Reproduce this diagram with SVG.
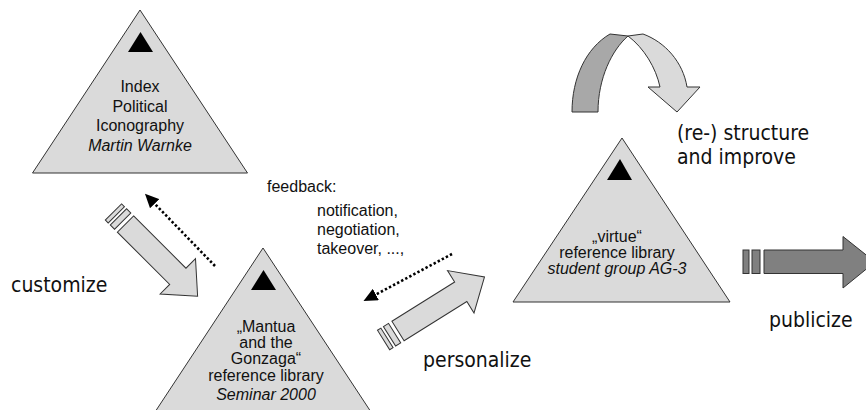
<svg xmlns="http://www.w3.org/2000/svg" width="866" height="410" viewBox="0 0 866 410">
<style>
.tri{fill:#dadada;stroke:#333;stroke-width:1}
.apex{fill:#000}
.nt{font-family:"Liberation Sans",Arial,sans-serif;font-size:16px;fill:#111;text-anchor:middle}
.it{font-style:italic}
.lbl{font-family:"DejaVu Sans Condensed","DejaVu Sans",sans-serif;font-size:21px;fill:#111}
.fb{font-family:"Liberation Sans",Arial,sans-serif;font-size:16px;fill:#111}
.blk{fill:#dadada;stroke:#333;stroke-width:1}
.dark{fill:#808080;stroke:#333;stroke-width:1}
.dot{fill:none;stroke:#000;stroke-width:2.6;stroke-dasharray:2.4 2.2}
</style>
<defs>
<marker id="head" markerUnits="userSpaceOnUse" viewBox="0 0 14 13" refX="1" refY="6.5" markerWidth="14" markerHeight="13" orient="auto">
<path d="M0,0 L14,6.5 L0,13 Z" fill="#000"/>
</marker>
<g id="striped">
<path class="blk" d="M0,-11.5 L74,-11.5 L74,-25 L102,0 L74,25 L74,11.5 L0,11.5 Z"/>
<rect class="blk" x="-10" y="-11.5" width="6" height="23"/>
<rect class="blk" x="-17" y="-11.5" width="4" height="23"/>
</g>
</defs>

<g id="connectors">
<use href="#striped" transform="translate(125.5,224) rotate(45)"/>
<use href="#striped" transform="translate(398,331) rotate(-32)"/>
<g id="publicize-arrow">
<path class="dark" d="M764,250 L843,250 L843,236.5 L875,262 L843,288 L843,273.5 L764,273.5 Z"/>
<rect class="dark" x="752" y="250" width="8" height="23.5"/>
<rect class="dark" x="743" y="250" width="6" height="23.5"/>
</g>
<g id="curved-arrow">
<path d="M572,112 C572,78 586,48 610,34 L628,36 C612,50 598,78 598,112 Z" fill="#a8a8a8" stroke="#333" stroke-width="1"/>
<path d="M628,36 L643,34 C665,42 683,62 687,87 L700,87 L677,112 L648,87 L660,87 C656,68 644,48 628,36 Z" fill="#dadada" stroke="#333" stroke-width="1"/>
</g>
<line class="dot" x1="215" y1="266" x2="154" y2="203" marker-end="url(#head)"/>
<line class="dot" x1="452" y1="254" x2="375" y2="295" marker-end="url(#head)"/>
</g>

<g id="node-index">
<path class="tri" d="M140,10 L247.5,173 L32.5,173 Z"/>
<path class="apex" d="M128,52 L153,52 L140.5,32 Z"/>
<text class="nt" x="140" y="92">Index</text>
<text class="nt" x="140" y="112">Political</text>
<text class="nt" x="140" y="131">Iconography</text>
<text class="nt it" x="140" y="151">Martin Warnke</text>
</g>

<g id="node-mantua">
<path class="tri" d="M263,248 L371,412 L155,412 Z"/>
<path class="apex" d="M251,290 L276,290 L263.5,270 Z"/>
<text class="nt" x="266" y="332">„Mantua</text>
<text class="nt" x="266" y="348">and the</text>
<text class="nt" x="266" y="364">Gonzaga“</text>
<text class="nt" x="266" y="381">reference library</text>
<text class="nt it" x="266" y="400">Seminar 2000</text>
</g>

<g id="node-virtue">
<path class="tri" d="M622,138 L730,302 L513,302 Z"/>
<path class="apex" d="M607,180 L632,180 L620,159 Z"/>
<text class="nt" x="617" y="242">„virtue“</text>
<text class="nt" x="617" y="258">reference library</text>
<text class="nt it" x="617" y="274">student group AG-3</text>
</g>

<g id="labels">
<text class="fb" x="267" y="192">feedback:</text>
<text class="fb" x="317" y="216">notification,</text>
<text class="fb" x="317" y="235">negotiation,</text>
<text class="fb" x="317" y="254">takeover, ...,</text>
<text class="lbl" x="11" y="292">customize</text>
<text class="lbl" x="423" y="367">personalize</text>
<text class="lbl" x="769" y="327">publicize</text>
<text class="lbl" x="677" y="139.5">(re-) structure</text>
<text class="lbl" x="677" y="163.5">and improve</text>
</g>
</svg>
